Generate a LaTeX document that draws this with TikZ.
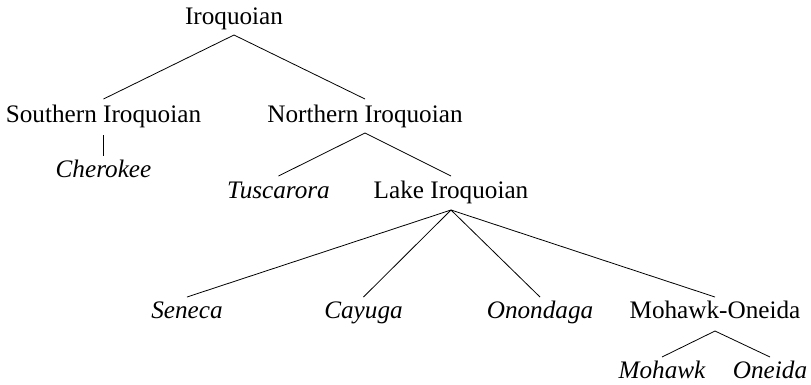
\documentclass[tikz,border=0pt]{standalone}
\usepackage{fontspec}
\setmainfont{Liberation Serif}
\begin{document}
\begin{tikzpicture}[x=1pt,y=-1pt,
  lbl/.style={anchor=base,inner sep=0pt,font=\fontsize{25.2}{30}\selectfont},
  ilbl/.style={lbl,font=\fontsize{25.2}{30}\selectfont\itshape},
  br/.style={line width=0.8pt}]
\useasboundingbox (0,0) rectangle (811,384);
\node[lbl] (iro) at (234,24) {Iroquoian};
\node[lbl] (south) at (103.5,122) {Southern Iroquoian};
\node[lbl] (north) at (365,122) {Northern Iroquoian};
\node[ilbl] (cher) at (103.5,177) {Cherokee};
\node[ilbl] (tusc) at (278.5,198) {Tuscarora};
\node[lbl] (lake) at (451,198) {Lake Iroquoian};
\node[ilbl] (sen) at (187,318) {Seneca};
\node[ilbl] (cay) at (363.5,318) {Cayuga};
\node[ilbl] (onon) at (540,318) {Onondaga};
\node[lbl] (mo) at (715,318) {Mohawk-Oneida};
\node[ilbl] (mohawk) at (662,378) {Mohawk};
\node[ilbl] (oneida) at (770,378) {Oneida};
\draw[br] ([yshift=-11pt]iro.base) -- ([yshift=23pt]south.base);
\draw[br] ([yshift=-11pt]iro.base) -- ([yshift=23pt]north.base);
\draw[br] ([yshift=-13pt]south.base) -- ([yshift=21pt]cher.base);
\draw[br] ([yshift=-11pt]north.base) -- ([yshift=22pt]tusc.base);
\draw[br] ([yshift=-11pt]north.base) -- ([yshift=22pt]lake.base);
\draw[br] ([yshift=-12pt]lake.base) -- ([yshift=21pt]sen.base);
\draw[br] ([yshift=-12pt]lake.base) -- ([yshift=21pt]cay.base);
\draw[br] ([yshift=-12pt]lake.base) -- ([yshift=21pt]onon.base);
\draw[br] ([yshift=-12pt]lake.base) -- ([yshift=21pt]mo.base);
\draw[br] ([yshift=-13pt]mo.base) -- ([yshift=21pt]mohawk.base);
\draw[br] ([yshift=-13pt]mo.base) -- ([yshift=21pt]oneida.base);
\end{tikzpicture}
\end{document}
